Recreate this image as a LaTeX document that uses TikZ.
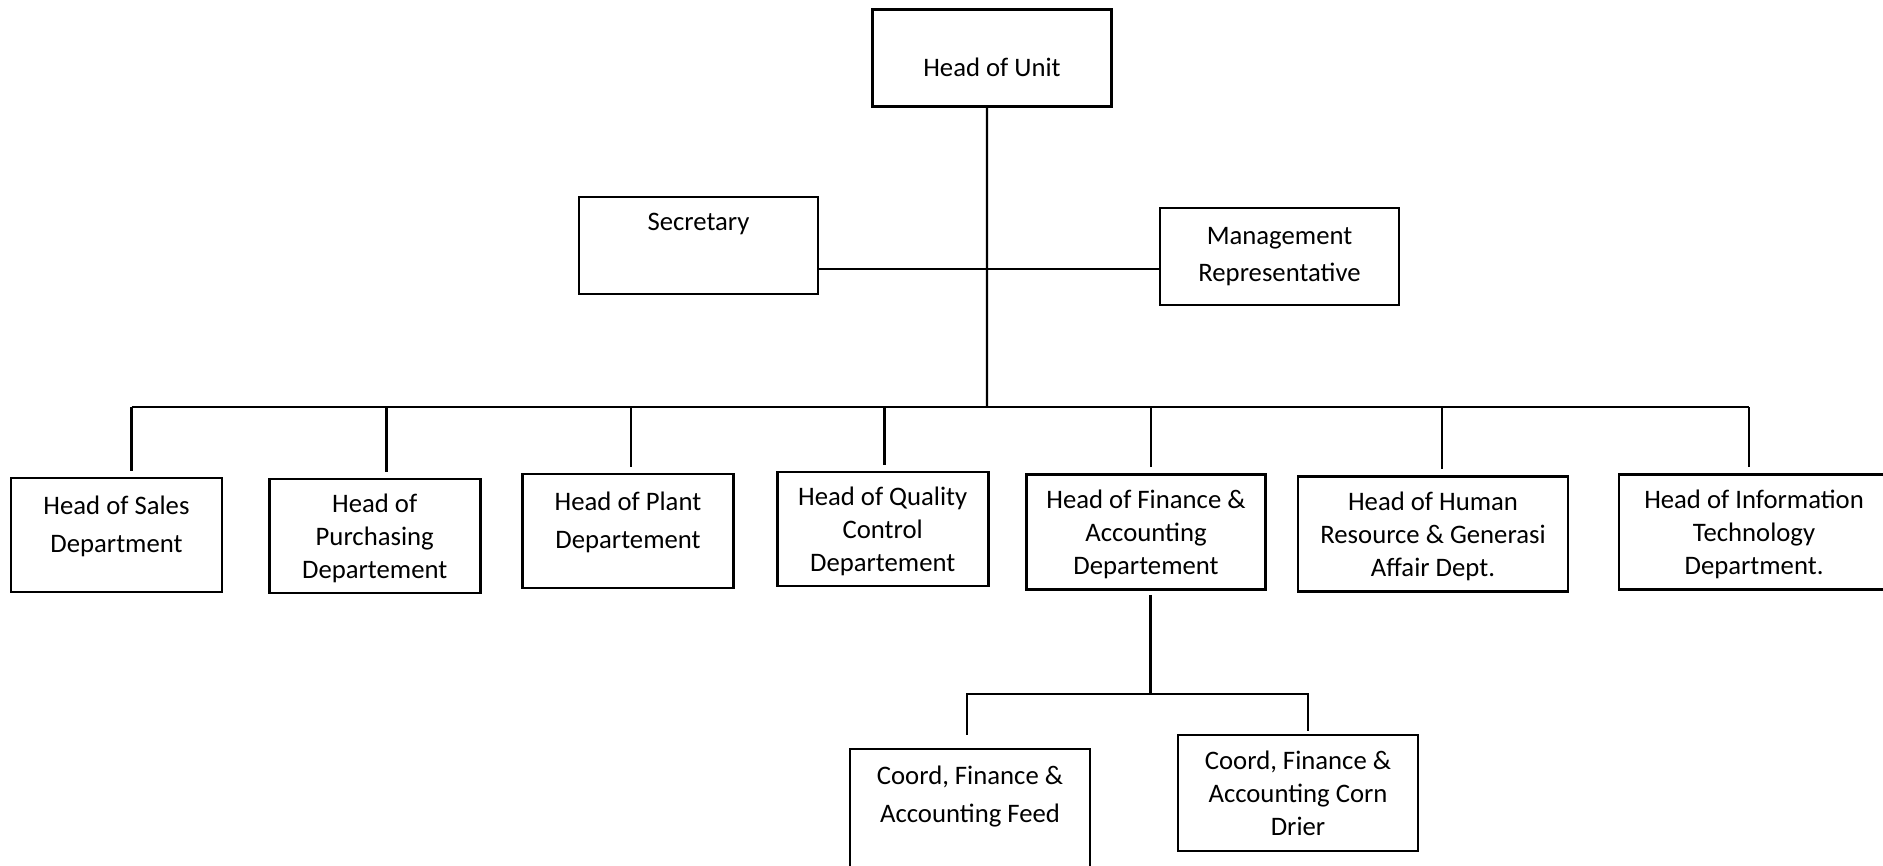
\documentclass[tikz,border=0pt]{standalone}
\usepackage{fontspec}
\setmainfont{Carlito}
\usepackage{tikz}
\usetikzlibrary{positioning,calc}

\begin{document}
\begin{tikzpicture}[
    unitbox/.style={draw,line width=0.75pt,align=center,inner sep=1pt,
      font=\fontsize{7.6}{10.7}\selectfont},
    tight/.style={font=\fontsize{7.6}{9.4}\selectfont},
    link/.style={line width=0.7pt}
  ]
    \useasboundingbox (0,0) rectangle (18.83,-8.65);
    % top of the chart
    \node[unitbox,minimum width=2.39cm,minimum height=0.97cm,text height=0.38cm] (unit) at (9.92,-0.58) {Head of Unit};
    \node[unitbox,minimum width=2.39cm,minimum height=0.97cm,text depth=0.48cm] (sec) at (6.985,-2.455) {Secretary};
    \node[unitbox,minimum width=2.39cm,minimum height=0.97cm] (mgr) at (12.795,-2.564) {Management\\Representative};
    \coordinate (mid) at (9.87,-2.69);
    \coordinate (bus) at (9.87,-4.07);
    % heads of department
    \node[unitbox,minimum width=2.11cm,minimum height=1.14cm,text depth=0.22cm] (sales) at (1.165,-5.35) {Head of Sales\\Department};
    \node[unitbox,tight,minimum width=2.11cm,minimum height=1.14cm,text depth=-0.05cm] (purch) at (3.747,-5.36) {Head of\\Purchasing\\Departement};
    \node[unitbox,minimum width=2.11cm,minimum height=1.14cm,text depth=0.21cm] (plant) at (6.28,-5.31) {Head of Plant\\Departement};
    \node[unitbox,tight,minimum width=2.11cm,minimum height=1.14cm,text depth=-0.05cm] (qc) at (8.827,-5.29) {Head of Quality\\Control\\Departement};
    \node[unitbox,tight,minimum width=2.39cm,minimum height=1.15cm,text depth=-0.05cm] (fin) at (11.46,-5.32) {Head of Finance \&\\Accounting\\Departement};
    \node[unitbox,tight,minimum width=2.70cm,minimum height=1.15cm,text depth=-0.03cm] (hr) at (14.33,-5.34) {Head of Human\\Resource \& Generasi\\Affair Dept.};
    \node[unitbox,tight,minimum width=2.70cm,minimum height=1.15cm,text depth=-0.05cm] (it) at (17.54,-5.32) {Head of Information\\Technology\\Department.};
    % under finance
    \coordinate (sub) at (11.505,-6.94);
    \node[unitbox,minimum width=2.40cm,minimum height=1.20cm,text depth=0.30cm] (feed) at (9.70,-8.09) {Coord, Finance \&\\Accounting Feed};
    \node[unitbox,tight,minimum width=2.40cm,minimum height=1.16cm,text depth=-0.07cm] (corn) at (12.98,-7.93) {Coord, Finance \&\\Accounting Corn\\Drier};

    \draw[link] ([xshift=-0.05cm]unit.south) -- (bus);
    \draw[link] (sec.east |- mid) -- (mgr.west |- mid);
    \draw[link] ([xshift=0.15cm]sales.north |- bus) -- ([xshift=-0.05cm]it.north |- bus);
    \foreach \n/\dx in {sales/0.15,purch/0.12,plant/0.03,qc/0.02,fin/0.05,hr/0.09,it/-0.05}
      \draw[link] ([xshift=\dx cm,yshift=0.06cm]\n.north) -- ([xshift=\dx cm]\n.north |- bus);
    \draw[link] ([xshift=0.045cm,yshift=-0.04cm]fin.south) -- (sub);
    \draw[link] ([xshift=-0.03cm,yshift=0.13cm]feed.north) -- ([xshift=-0.03cm]feed.north |- sub)
      -- ([xshift=0.10cm]corn.north |- sub) -- ([xshift=0.10cm,yshift=0.03cm]corn.north);
  \end{tikzpicture}
\end{document}
